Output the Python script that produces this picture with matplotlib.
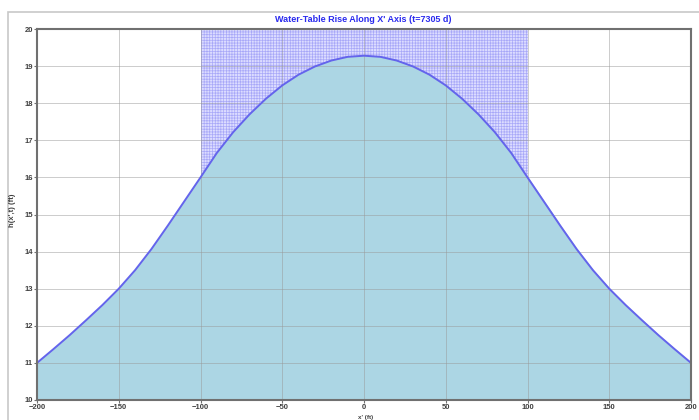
import matplotlib
matplotlib.use("Agg")
import matplotlib.pyplot as plt
from matplotlib.patches import Rectangle

# distance along x' axis (ft) and water-table height h(x',t) (ft)
x_ft = [-200, -190, -180, -170, -160, -150, -140, -130, -120, -110, -100,
        -90, -80, -70, -60, -50, -40, -30, -20, -10, 0,
        10, 20, 30, 40, 50, 60, 70, 80, 90, 100,
        110, 120, 130, 140, 150, 160, 170, 180, 190, 200]
h_ft = [11.00, 11.37, 11.75, 12.15, 12.56, 13.00, 13.50, 14.07, 14.70, 15.35, 16.00,
        16.66, 17.22, 17.70, 18.12, 18.48, 18.77, 18.99, 19.15, 19.25, 19.28,
        19.25, 19.15, 18.99, 18.77, 18.48, 18.12, 17.70, 17.22, 16.66, 16.00,
        15.35, 14.70, 14.07, 13.50, 13.00, 12.56, 12.15, 11.75, 11.37, 11.00]

# recharge zone along x'
zone_x = [-100, 100]
x_ticks = [-200, -150, -100, -50, 0, 50, 100, 150, 200]
y_ticks = list(range(10, 21))
title = "Water-Table Rise Along X' Axis (t=7305 d)"

plt.rcParams["font.family"] = ["Liberation Sans", "DejaVu Sans"]
plt.rcParams["hatch.linewidth"] = 0.5

fig = plt.figure(figsize=(6.99, 4.2), dpi=100)
ax = fig.add_axes([37 / 699, 20 / 420, 654 / 699, 371 / 420])

# outer frame of the chart panel
fig.patches.append(Rectangle((8 / 699, -0.05), 1.0, (420 - 12) / 420 + 0.05,
                             transform=fig.transFigure, fill=False,
                             edgecolor="#c8c8c8", linewidth=1.2))

ax.add_patch(Rectangle((zone_x[0], 10), zone_x[1] - zone_x[0], 10,
                       facecolor="#dcdcff", edgecolor="#a8a8f8", hatch="++++++",
                       linewidth=0, zorder=1))
ax.fill_between(x_ft, 10, h_ft, color="#acd6e4", zorder=2)
ax.plot(x_ft, h_ft, color="#6464ec", linewidth=1.4, zorder=4)

ax.set_xlim(-200, 200)
ax.set_ylim(10, 20)
ax.set_xticks(x_ticks)
ax.set_yticks(y_ticks)
ax.grid(True, color="#999999", linewidth=0.7, alpha=0.5, zorder=3)
ax.set_axisbelow(False)
for sp in ax.spines.values():
    sp.set_color("#707070")
    sp.set_linewidth(1.5)
    sp.set_zorder(5)
ax.tick_params(direction="out", length=2.5, width=0.8, color="#707070",
               labelsize=5.5, labelcolor="#404040", pad=0.5)
for lbl in ax.get_xticklabels() + ax.get_yticklabels():
    lbl.set_fontweight("bold")

fig.text(0.52, 1 - 20 / 420, title, ha="center", va="center",
         fontsize=6.5, fontweight="bold", color="#2a2aee")
fig.text(12 / 699, 0.5, "h(x',t) (ft)", rotation=90, ha="center", va="center",
         fontsize=5.5, fontweight="bold", color="#404040")
fig.text(366 / 699, 0.5 / 420, "x' (ft)", ha="center", va="bottom",
         fontsize=4.5, fontweight="bold", color="#404040")

fig.savefig("out.png", dpi=100)
